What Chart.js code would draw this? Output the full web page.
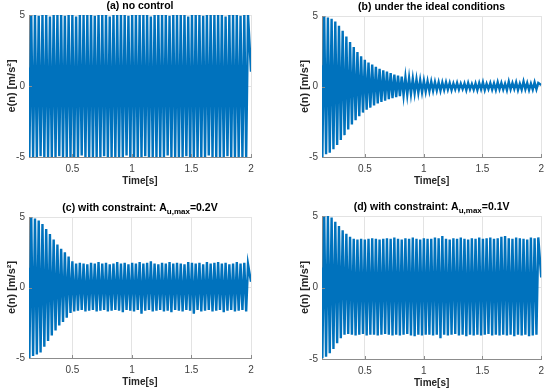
<!DOCTYPE html>
<html>
<head>
<meta charset="utf-8">
<script src="https://cdn.jsdelivr.net/npm/chart.js@4.4.1/dist/chart.umd.min.js"></script>
<style>
	body { margin: 0; background: #fff; }
	#wrap { position: relative; width: 550px; height: 391px; }
	#wrap canvas { position: absolute; left: 0; top: 0; }
</style>
</head>
<body>
<div id="wrap">
	<canvas id="pa" width="550" height="391"></canvas>
	<canvas id="pb" width="550" height="391"></canvas>
	<canvas id="pc" width="550" height="391"></canvas>
	<canvas id="pd" width="550" height="391"></canvas>
</div>
<script>
// sampling of the oscillation: one negative and one positive peak per cycle
const tStart = 0.135;
const tEnd = 2;
const period = 0.0314;
const xTicks = [0.5, 1, 1.5, 2];
const yTicks = [-5, 0, 5];

// peak values, one per cycle
const aPos = [5,5,4.95,5,5,4.9,5,5,5,4.95, 5,5,4.9,5,5,5,5,4.95,5,5, 5,4.9,5,5,5,5,4.95,5,5,5,
	5,5,4.9,5,5,5,5,4.95,5,5, 5,5,4.9,5,5,5,4.95,5,5,5, 5,5,4.9,5,5,5,4.95,5,5];
const aNeg = [-5,-5,-5,-4.95,-5,-5,-5,-5,-4.95,-5, -5,-5,-5,-5,-4.9,-5,-5,-5,-5,-5, -4.95,-5,-5,-5,-5,-5,-4.9,-5,-5,-5,
	-5,-4.95,-5,-5,-5,-5,-5,-4.9,-5,-5, -5,-5,-4.95,-5,-5,-5,-5,-5,-4.9,-5, -5,-5,-5,-4.95,-5,-5,-5,-5,-5];

const bPos = [5.0,4.9,4.8,4.6,4.3,3.95,3.55,3.15,2.8,2.45, 2.15,1.9,1.7,1.55,1.4,1.25,1.15,1.05,0.95,0.85,
	0.78,0.7,0.65,0.6,0.55,0.5,0.45,0.42,0.38,0.35, 0.32,0.3,0.28,0.3,0.25,0.22,0.25,0.2,0.22,0.25,
	0.18,0.22,0.25,0.3,0.2,0.25,0.22,0.3,0.25,0.2, 0.35,0.25,0.3,0.2,0.35,0.25,0.2,0.3,0.25];
const bNeg = [-5.0,-4.8,-4.7,-4.45,-4.15,-3.8,-3.45,-3.05,-2.7,-2.4, -2.1,-1.85,-1.65,-1.5,-1.35,-1.2,-1.1,-1.0,-0.9,-0.82,
	-0.75,-0.68,-0.62,-0.58,-0.52,-0.48,-0.44,-0.4,-0.36,-0.33, -0.3,-0.28,-0.3,-0.25,-0.22,-0.25,-0.2,-0.22,-0.18,-0.25,
	-0.2,-0.22,-0.25,-0.2,-0.25,-0.18,-0.22,-0.25,-0.2,-0.22, -0.25,-0.2,-0.18,-0.25,-0.22,-0.2,-0.25,-0.22,-0.2];

const cPos = [5.0,4.9,4.75,4.5,4.15,3.8,3.4,3.05,2.75,2.5, 2.2,1.85,1.7,1.75,1.7,1.65,1.75,1.7,1.8,1.7,
	1.75,1.65,1.7,1.8,1.7,1.75,1.65,1.75,1.7,1.8, 1.7,1.75,1.85,1.7,1.65,1.75,1.7,1.8,1.7,1.75,
	1.7,1.65,1.8,1.75,1.7,1.75,1.65,1.8,1.7,1.75, 1.8,1.7,1.75,1.65,1.7,1.8,1.7,1.75,1.65];
const cNeg = [-5.0,-4.85,-4.75,-4.6,-4.2,-3.8,-3.4,-3.05,-2.7,-2.45, -2.15,-1.8,-1.7,-1.65,-1.6,-1.7,-1.65,-1.6,-1.7,-1.65,
	-1.6,-1.7,-1.65,-1.6,-1.65,-1.75,-1.6,-1.65,-1.7,-1.6, -1.85,-1.65,-1.6,-1.7,-1.65,-1.6,-1.7,-1.65,-1.75,-1.6,
	-1.65,-1.7,-1.6,-1.65,-1.85,-1.6,-1.7,-1.65,-1.6,-1.7, -1.65,-1.6,-1.75,-1.65,-1.6,-1.7,-1.65,-1.6,-1.7];

const dPos = [5.0,5.0,4.9,4.6,4.3,4.0,3.75,3.55,3.4,3.35, 3.4,3.35,3.4,3.45,3.4,3.35,3.4,3.45,3.4,3.5,
	3.4,3.35,3.45,3.4,3.5,3.4,3.35,3.45,3.4,3.4, 3.5,3.45,3.6,3.4,3.35,3.45,3.4,3.5,3.4,3.35,
	3.45,3.4,3.5,3.4,3.45,3.5,3.4,3.45,3.55,3.6, 3.45,3.4,3.5,3.45,3.4,3.35,3.5,3.45,3.5];
const dNeg = [-4.95,-4.85,-4.6,-4.3,-3.9,-3.55,-3.3,-3.25,-3.3,-3.35, -3.3,-3.25,-3.35,-3.3,-3.3,-3.35,-3.3,-3.25,-3.3,-3.35,
	-3.3,-3.35,-3.3,-3.25,-3.35,-3.4,-3.3,-3.35,-3.3,-3.3, -3.35,-3.3,-3.55,-3.3,-3.35,-3.3,-3.25,-3.35,-3.3,-3.4,
	-3.3,-3.35,-3.3,-3.35,-3.3,-3.25,-3.35,-3.3,-3.35,-3.3, -3.35,-3.3,-3.4,-3.3,-3.35,-3.3,-3.4,-3.35,-3.3];

// first and last sample of each record
const startVals = [1.3, 1.5, 1.4, 1.4];
const endVals = [1.0, 0.1, 0.4, 0.7];

const FONT = '"Liberation Sans", Arial, sans-serif';
const BLUE = '#0072BD';

// plot area of each panel in page pixels, plus title pieces
const panels = [
	{id: 'pa', pos: aPos, neg: aNeg, box: [29, 251, 15, 157], title: ['(a) no control']},
	{id: 'pb', pos: bPos, neg: bNeg, box: [322, 544, 16, 157], title: ['(b) under the ideal conditions']},
	{id: 'pc', pos: cPos, neg: cNeg, box: [29, 251, 217, 358], title: ['(c) with constraint: A', 'u,max', '=0.2V']},
	{id: 'pd', pos: dPos, neg: dNeg, box: [322, 544, 216, 359], title: ['(d) with constraint: A', 'u,max', '=0.1V']}
];

function buildSeries(pos, neg, first, last) {
	let pts = [{x: tStart, y: first}];
	for (let k = 0; k < pos.length; k++) {
		pts.push({x: tStart + period * (k + 0.1), y: neg[k]});
		pts.push({x: tStart + period * (k + 0.6), y: pos[k]});
	}
	pts.push({x: tEnd, y: last});
	return pts;
}

// title with optional subscript, ticks drawn inside the box like matlab
const panelDecor = {
	id: 'panelDecor',
	afterDraw(chart, args, opts) {
		const {ctx, chartArea: ca, scales} = chart;
		ctx.save();
		ctx.strokeStyle = '#8c8c8c';
		ctx.lineWidth = 1;
		ctx.beginPath();
		xTicks.forEach(v => {
			let x = Math.round(scales.x.getPixelForValue(v)) + 0.5;
			ctx.moveTo(x, ca.bottom);
			ctx.lineTo(x, ca.bottom - 3);
		});
		yTicks.forEach(v => {
			let y = Math.round(scales.y.getPixelForValue(v)) + 0.5;
			ctx.moveTo(ca.left, y);
			ctx.lineTo(ca.left + 3, y);
		});
		ctx.stroke();

		const parts = opts.title;
		const big = 'bold 10.5px ' + FONT;
		const small = 'bold 8px ' + FONT;
		let widths = parts.map((p, i) => {
			ctx.font = (i === 1) ? small : big;
			return ctx.measureText(p).width;
		});
		let total = widths.reduce((a, b) => a + b, 0);
		let x = (ca.left + ca.right) / 2 - total / 2;
		let y = ca.top - 9;
		ctx.fillStyle = '#000';
		ctx.textBaseline = 'middle';
		ctx.textAlign = 'left';
		parts.forEach((p, i) => {
			ctx.font = (i === 1) ? small : big;
			ctx.fillText(p, x, (i === 1) ? y + 4 : y);
			x += widths[i];
		});
		ctx.restore();
	}
};

panels.forEach((p, i) => {
	const [L, R, T, B] = p.box;
	const ctx = document.getElementById(p.id).getContext('2d');
	new Chart(ctx, {
		type: 'line',
		data: {
			datasets: [{
				data: buildSeries(p.pos, p.neg, startVals[i], endVals[i]),
				borderColor: BLUE,
				borderWidth: 2.4,
				pointRadius: 0,
				tension: 0,
				fill: false
			}]
		},
		options: {
			responsive: false,
			animation: false,
			events: [],
			layout: {
				padding: {left: L - 29, right: 550 - R, top: T, bottom: 391 - B - 38}
			},
			plugins: {
				legend: {display: false},
				tooltip: {enabled: false},
				panelDecor: {title: p.title}
			},
			scales: {
				x: {
					type: 'linear',
					min: tStart,
					max: tEnd,
					afterBuildTicks: s => { s.ticks = xTicks.map(v => ({value: v})); },
					afterFit: s => { s.height = 38; },
					grid: {color: '#e3e3e3', drawTicks: false},
					border: {color: '#8c8c8c'},
					ticks: {padding: 6, color: '#404040', font: {family: FONT, size: 10},
						callback: v => String(v)},
					title: {display: true, text: 'Time[s]', color: '#262626',
						font: {family: FONT, size: 10, weight: 'bold'}, padding: {top: 0, bottom: 8}}
				},
				y: {
					min: -5,
					max: 5,
					afterBuildTicks: s => { s.ticks = yTicks.map(v => ({value: v})); },
					afterFit: s => { s.width = 29; },
					grid: {color: '#e3e3e3', drawTicks: false},
					border: {color: '#8c8c8c'},
					ticks: {padding: 4, color: '#404040', font: {family: FONT, size: 10},
						callback: v => String(v)},
					title: {display: true, text: 'e(n) [m/s²]', color: '#262626',
						font: {family: FONT, size: 11, weight: 'bold'}, padding: {top: 5, bottom: 0}}
				}
			}
		},
		plugins: [panelDecor]
	});
});
</script>
</body>
</html>
